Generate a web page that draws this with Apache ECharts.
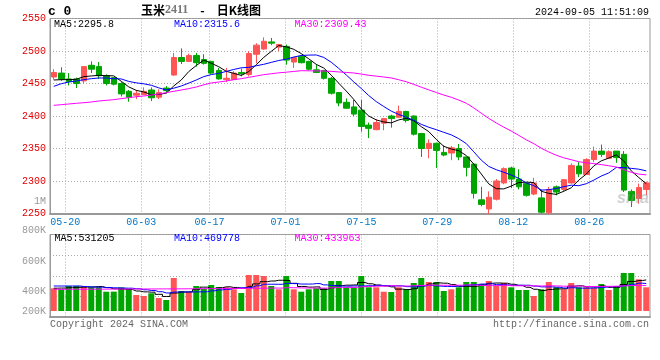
<!DOCTYPE html>
<html><head><meta charset="utf-8">
<script src="https://cdn.jsdelivr.net/npm/echarts@6/dist/echarts.min.js"></script>
<style>html,body{margin:0;padding:0;background:#fff}#c{width:660px;height:360px}</style>
</head><body><div id="c"></div>
<script>
const dates = ['05-16','05-17','05-20','05-21','05-22','05-23','05-24','05-27','05-28','05-29','05-30','05-31',
'06-03','06-04','06-05','06-06','06-07','06-11','06-12','06-13','06-14','06-17','06-18','06-19','06-20','06-21','06-24','06-25','06-26','06-27','06-28',
'07-01','07-02','07-03','07-04','07-05','07-08','07-09','07-10','07-11','07-12','07-15','07-16','07-17','07-18','07-19','07-22','07-23','07-24','07-25','07-26','07-29','07-30','07-31',
'08-01','08-02','08-05','08-06','08-07','08-08','08-09','08-12','08-13','08-14','08-15','08-16','08-19','08-20','08-21','08-22','08-23','08-26','08-27','08-28','08-29','08-30',
'09-02','09-03','09-04','09-05'];
const labelDates = ['05-20','06-03','06-17','07-01','07-15','07-29','08-12','08-26'];

const opens = [2460,2466,2457,2457,2454,2478,2476,2462,2459,2450,2438,2432,2433,2440,2429,2443,2463,2490,2484,2493,
2487,2484,2470,2456,2456,2467,2464,2495,2503,2514,2506,2507,2483,2492,2484,2471,2470,2458,2436,2421,
2414,2409,2386,2379,2389,2400,2398,2407,2400,2373,2350,2358,2344,2343,2350,2337,2326,2271,2257,2272,
2297,2320,2303,2296,2280,2274,2251,2291,2287,2297,2323,2310,2333,2346,2335,2346,2341,2284,2273,2287];
const closes = [2467,2457,2453,2450,2476,2472,2462,2450,2449,2434,2429,2435,2438,2428,2436,2439,2490,2484,2493,2482,
2481,2466,2457,2458,2466,2465,2496,2509,2515,2512,2510,2486,2490,2482,2472,2467,2458,2435,2420,2412,
2403,2384,2381,2390,2396,2396,2407,2393,2372,2350,2358,2347,2340,2351,2337,2321,2281,2264,2275,2300,
2319,2303,2291,2278,2297,2252,2287,2283,2302,2324,2311,2333,2346,2341,2345,2336,2286,2270,2290,2297];
const highs = [2472,2475,2466,2459,2476,2484,2483,2464,2460,2452,2440,2440,2444,2444,2441,2446,2497,2504,2496,2497,
2495,2485,2474,2474,2469,2473,2500,2512,2521,2520,2511,2510,2491,2494,2485,2479,2471,2460,2437,2427,
2425,2425,2390,2395,2397,2402,2416,2408,2401,2374,2364,2359,2355,2354,2357,2337,2327,2291,2284,2303,
2321,2322,2318,2298,2305,2287,2291,2293,2303,2327,2329,2335,2353,2356,2347,2346,2346,2287,2296,2299];
const lows = [2456,2454,2447,2443,2450,2466,2457,2447,2447,2430,2422,2426,2432,2423,2426,2435,2462,2480,2483,2476,
2479,2464,2456,2452,2456,2461,2461,2481,2502,2509,2500,2479,2474,2481,2470,2466,2456,2433,2415,2411,
2400,2376,2366,2378,2378,2382,2398,2390,2370,2337,2335,2320,2338,2332,2332,2307,2273,2261,2249,2270,
2295,2289,2287,2276,2278,2250,2249,2278,2283,2296,2306,2310,2329,2337,2334,2328,2283,2260,2265,2278];

const ma5 = [2455.4,2455.9,2456.0,2456.4,2460.6,2461.6,2462.6,2462.0,2461.8,2453.4,
2444.8,2439.4,2437.0,2432.8,2433.2,2435.2,2446.2,2455.4,2468.4,2477.6,
2486.0,2481.2,2475.8,2468.8,2465.6,2462.4,2468.4,2478.8,2490.2,2499.4,
2508.4,2506.4,2502.6,2496.0,2488.0,2479.4,2473.8,2462.8,2450.4,2438.4,
2425.6,2410.8,2400.0,2394.0,2390.8,2389.4,2394.0,2396.4,2392.8,2383.6,
2376.0,2364.0,2353.4,2349.2,2346.6,2339.2,2326.0,2310.8,2295.6,2288.2,
2287.8,2292.2,2297.6,2298.2,2297.6,2284.2,2281.0,2279.4,2284.2,2289.6,
2301.4,2310.6,2323.2,2331.0,2335.2,2340.2,2330.8,2315.6,2305.4,2295.8];
const ma10 = [2445.6,2449.7,2452.3,2453.8,2455.9,2457.4,2458.5,2458.5,2457.4,2457.0,
2453.2,2451.0,2449.5,2447.3,2443.3,2440.0,2442.8,2446.2,2450.6,2455.4,
2460.6,2463.7,2465.6,2468.6,2471.6,2474.2,2474.8,2477.3,2479.5,2482.5,
2485.4,2487.4,2490.7,2493.1,2493.7,2493.9,2490.1,2482.7,2473.2,2463.2,
2452.5,2442.3,2431.4,2422.2,2414.6,2407.5,2402.4,2398.2,2393.4,2387.2,
2382.7,2379.0,2374.9,2371.0,2365.1,2357.6,2345.0,2332.1,2322.4,2317.4,
2313.5,2309.1,2304.2,2296.9,2292.9,2286.0,2286.6,2288.5,2291.2,2293.6,
2292.8,2295.8,2301.3,2307.6,2312.4,2320.8,2320.7,2319.4,2318.2,2315.6];
const ma30 = [2416.4,2417.4,2418.5,2419.5,2420.5,2421.5,2423.1,2424.1,2425.1,2426.7,
2428.2,2429.7,2430.8,2432.3,2433.8,2435.9,2438.0,2440.0,2442.1,2444.6,
2448.0,2450.8,2452.3,2453.8,2455.9,2457.4,2459.5,2461.5,2463.6,2465.0,
2466.4,2467.4,2468.6,2469.7,2469.5,2469.4,2469.2,2468.7,2467.8,2467.0,
2466.2,2464.5,2462.6,2461.3,2460.0,2458.5,2455.8,2452.7,2448.7,2444.3,
2440.2,2436.2,2432.3,2428.8,2424.5,2419.7,2412.5,2404.3,2396.3,2389.3,
2382.9,2376.8,2370.2,2363.4,2357.5,2350.4,2344.7,2339.6,2335.7,2332.7,
2329.7,2328.0,2326.8,2325.2,2323.5,2321.5,2317.4,2313.3,2310.6,2309.43];

// volumes in thousands
const volumes = [388.2,371.1,427.5,429.0,426.0,405.3,404.0,330.0,331.0,405.3,
371.1,273.6,256.5,302.7,222.3,188.1,564.3,342.0,324.9,427.5,
381.3,444.6,410.4,405.3,371.1,307.8,615.6,616.0,598.5,427.5,
371.1,598.5,371.1,330.0,371.1,388.2,388.2,513.0,513.0,405.3,
405.3,598.5,405.3,405.3,330.0,324.9,405.3,371.1,478.8,564.3,
495.9,495.9,342.0,371.1,405.3,495.9,495.9,461.7,513.0,427.5,
478.8,405.3,359.1,359.1,256.5,371.1,495.9,405.3,371.1,478.8,
405.3,405.3,393.3,461.7,359.1,405.3,649.8,649.8,542.1,405.3];
const volMa5 = [390,392,398,404,408.3,411.8,418.6,399.1,379.6,375.2,
368.3,342.0,327.3,321.8,285.2,248.6,306.8,323.9,328.3,369.4,
408.0,384.1,397.7,413.8,402.5,387.8,422.0,463.1,501.7,513.0,
525.7,522.2,473.3,419.6,408.3,411.8,369.7,398.1,434.7,441.5,
444.9,487.0,465.5,443.9,428.9,412.8,374.1,367.3,382.0,428.9,
463.1,481.2,475.4,453.8,422.0,422.0,422.0,446.0,474.4,478.8,
475.4,457.3,436.7,406.0,371.8,350.2,368.3,377.6,380.0,424.4,
431.3,413.1,410.7,428.9,404.9,404.9,453.8,505.1,521.2,531.205];
const volMa10 = [427.5,427.5,427.5,427.5,419,410,407,402,397,391.8,
390.1,380.3,363.2,350.7,330.2,308.5,324.4,325.6,325.1,327.3,
328.3,345.4,360.8,371.1,385.9,397.9,403.0,430.4,457.8,457.8,
456.7,472.1,468.2,460.7,460.7,468.7,446.0,435.7,427.2,424.9,
428.4,428.4,431.8,439.3,435.2,428.9,430.6,416.4,413.0,428.9,
437.9,427.7,421.3,417.9,425.4,442.5,451.6,460.7,464.1,450.4,
448.7,439.6,441.4,440.2,425.3,412.8,412.8,407.2,393.0,398.1,
390.7,390.7,394.2,404.4,414.7,418.1,433.5,457.9,475.0,469.778];
const volMa30 = [371,371,372,372,373,373,374,374,375,375,
376,376,377,377,378,378,379,379,380,381,
382,383,384,385,386,387,388,389,390,392.3,
391.8,399.3,397.4,394.2,392.3,391.8,391.1,397.2,403.4,403.4,
404.4,415.4,420.3,423.7,427.3,431.8,426.5,427.5,432.6,437.2,
441.0,442.7,440.5,439.3,440.5,446.7,442.7,437.6,434.7,434.7,
438.3,431.9,431.4,432.5,428.7,428.0,431.6,428.0,423.4,425.8,
425.8,419.3,419.0,420.8,421.9,424.4,430.0,436.0,437.0,433.963];

const priceMin = 2250, priceMax = 2550, priceStep = 50;
const volTickLabels = ['800K','600K','400K','200K'];
const volTickY = [230.5, 261, 291, 311];
const titleName = '玉米', titleCode = '2411', titleTail = '\u2003-\u2003日K线图';
const stamp = '2024-09-05 11:51:09';

const UP = '#ff5555', DOWN = '#00a600';
const MONO = '"Liberation Mono","DejaVu Sans Mono",monospace';
const GRID = '#aaaaaa', FRAME = '#999999';
const isLabel = (i, v) => labelDates.indexOf(v) >= 0;
const last = a => a[a.length - 1];
const dotted = {color: GRID, type: [1, 2], width: 1};

function txt(text, x, y, fill, opts) {
  opts = opts || {};
  return {type: 'text', x: x, y: y, silent: true, z: 100,
    style: {text: text, fill: fill, font: opts.font || ('10px ' + MONO),
      textAlign: opts.align || 'left', textVerticalAlign: 'middle'}};
}

const chart = echarts.init(document.getElementById('c'));
const option = {
  animation: false,
  backgroundColor: '#ffffff',
  title: {
    text: '{a|' + titleName + '}{b|' + titleCode + '}{a|' + titleTail + '}',
    left: 141, top: 4, padding: 0,
    textStyle: {rich: {
      a: {fontFamily: '"Noto Sans CJK SC"', fontSize: 12, color: '#000'},
      b: {fontFamily: '"Liberation Serif"', fontWeight: 'bold', fontSize: 12, color: '#777'}
    }}
  },
  grid: [
    {left: 50, right: 10, top: 18.5, height: 195, show: true, borderColor: FRAME, borderWidth: 1, backgroundColor: 'transparent'},
    {left: 50, right: 10, top: 234.5, height: 82.5, show: true, borderColor: FRAME, borderWidth: 1, backgroundColor: 'transparent'}
  ],
  xAxis: [
    {type: 'category', gridIndex: 0, data: dates, boundaryGap: true, position: 'bottom',
      axisLine: {show: true, onZero: false, lineStyle: {color: FRAME, width: 2}},
      axisTick: {show: false}, axisLabel: {show: false}, splitLine: {show: false}},
    {type: 'category', gridIndex: 0, data: dates, boundaryGap: false, position: 'bottom',
      axisLine: {show: false, onZero: false}, axisTick: {show: false},
      axisLabel: {show: true, interval: isLabel, color: '#0078c8', fontFamily: MONO, fontSize: 10, margin: 4},
      splitLine: {show: true, interval: isLabel, lineStyle: dotted}},
    {type: 'category', gridIndex: 1, data: dates, boundaryGap: true, position: 'bottom',
      axisLine: {show: true, onZero: false, lineStyle: {color: FRAME, width: 2}},
      axisTick: {show: false}, axisLabel: {show: false}, splitLine: {show: false}},
    {type: 'category', gridIndex: 1, data: dates, boundaryGap: false, position: 'bottom',
      axisLine: {show: false, onZero: false}, axisTick: {show: false}, axisLabel: {show: false},
      splitLine: {show: true, interval: isLabel, lineStyle: dotted}}
  ],
  yAxis: [
    {type: 'value', gridIndex: 0, min: priceMin, max: priceMax, interval: priceStep, position: 'left',
      axisLine: {show: true, lineStyle: {color: FRAME, width: 1}}, axisTick: {show: false},
      axisLabel: {color: '#e00000', fontFamily: MONO, fontSize: 10, margin: 4, padding: [0, 0, 4, 0],
        formatter: v => String(v)},
      splitLine: {show: true, lineStyle: dotted}},
    {type: 'value', gridIndex: 1, min: -102.6, max: 1308.2, position: 'left',
      axisLine: {show: false}, axisTick: {show: false}, axisLabel: {show: false}, splitLine: {show: false}},
    {type: 'value', gridIndex: 1, min: 0, max: 4, interval: 1, position: 'left',
      axisLine: {show: true, lineStyle: {color: FRAME}}, axisTick: {show: false}, axisLabel: {show: false},
      splitLine: {show: true, lineStyle: dotted}}
  ],
  series: [
    {type: 'candlestick', xAxisIndex: 0, yAxisIndex: 0, barWidth: 6,
      data: dates.map((d, i) => [opens[i], closes[i], lows[i], highs[i]]),
      itemStyle: {color: UP, color0: DOWN, borderColor: UP, borderColor0: DOWN, borderWidth: 1}},
    {type: 'line', name: 'MA5', xAxisIndex: 0, yAxisIndex: 0, data: ma5, showSymbol: false, symbol: 'none', z: 5,
      lineStyle: {color: '#000000', width: 1}},
    {type: 'line', name: 'MA10', xAxisIndex: 0, yAxisIndex: 0, data: ma10, showSymbol: false, symbol: 'none', z: 5,
      lineStyle: {color: '#0000ff', width: 1}},
    {type: 'line', name: 'MA30', xAxisIndex: 0, yAxisIndex: 0, data: ma30, showSymbol: false, symbol: 'none', z: 5,
      lineStyle: {color: '#ff00ff', width: 1}},
    {type: 'bar', xAxisIndex: 2, yAxisIndex: 1, barWidth: 6, data: volumes,
      itemStyle: {color: p => closes[p.dataIndex] >= opens[p.dataIndex] ? UP : DOWN}},
    {type: 'line', xAxisIndex: 2, yAxisIndex: 1, data: volMa5, step: 'middle', showSymbol: false, symbol: 'none', z: 5,
      lineStyle: {color: '#000000', width: 1}},
    {type: 'line', xAxisIndex: 2, yAxisIndex: 1, data: volMa10, step: 'middle', showSymbol: false, symbol: 'none', z: 5,
      lineStyle: {color: '#0000ff', width: 1}},
    {type: 'line', xAxisIndex: 2, yAxisIndex: 1, data: volMa30, step: 'middle', showSymbol: false, symbol: 'none', z: 5,
      lineStyle: {color: '#ff00ff', width: 1}}
  ],
  graphic: [
    txt('c 0', 48, 12, '#000', {font: 'bold 13px ' + MONO}),
    txt(stamp, 649, 12, '#000', {align: 'right'}),
    txt('MA5:' + last(ma5), 54, 24, '#000'),
    txt('MA10:' + last(ma10), 174, 24, '#0000ff'),
    txt('MA30:' + last(ma30), 294.5, 24, '#ff00ff'),
    txt('1M', 46, 201, '#999', {align: 'right'}),
    txt('MA5:' + Math.round(last(volMa5) * 1000), 54.5, 238.5, '#000'),
    txt('MA10:' + Math.round(last(volMa10) * 1000), 174, 238.5, '#0000ff'),
    txt('MA30:' + Math.round(last(volMa30) * 1000), 294.5, 238.5, '#ff00ff'),
    ...volTickLabels.map((t, k) => txt(t, 46, volTickY[k], '#999', {align: 'right'})),
    txt('Copyright 2024 SINA.COM', 50, 324, '#666'),
    txt('http://finance.sina.com.cn', 649, 324, '#666', {align: 'right'}),
    txt('sina', 617, 199, 'rgba(150,150,150,0.45)', {font: 'italic bold 16px "Liberation Sans"'})
  ]
};
chart.setOption(option);
</script>
</body></html>
